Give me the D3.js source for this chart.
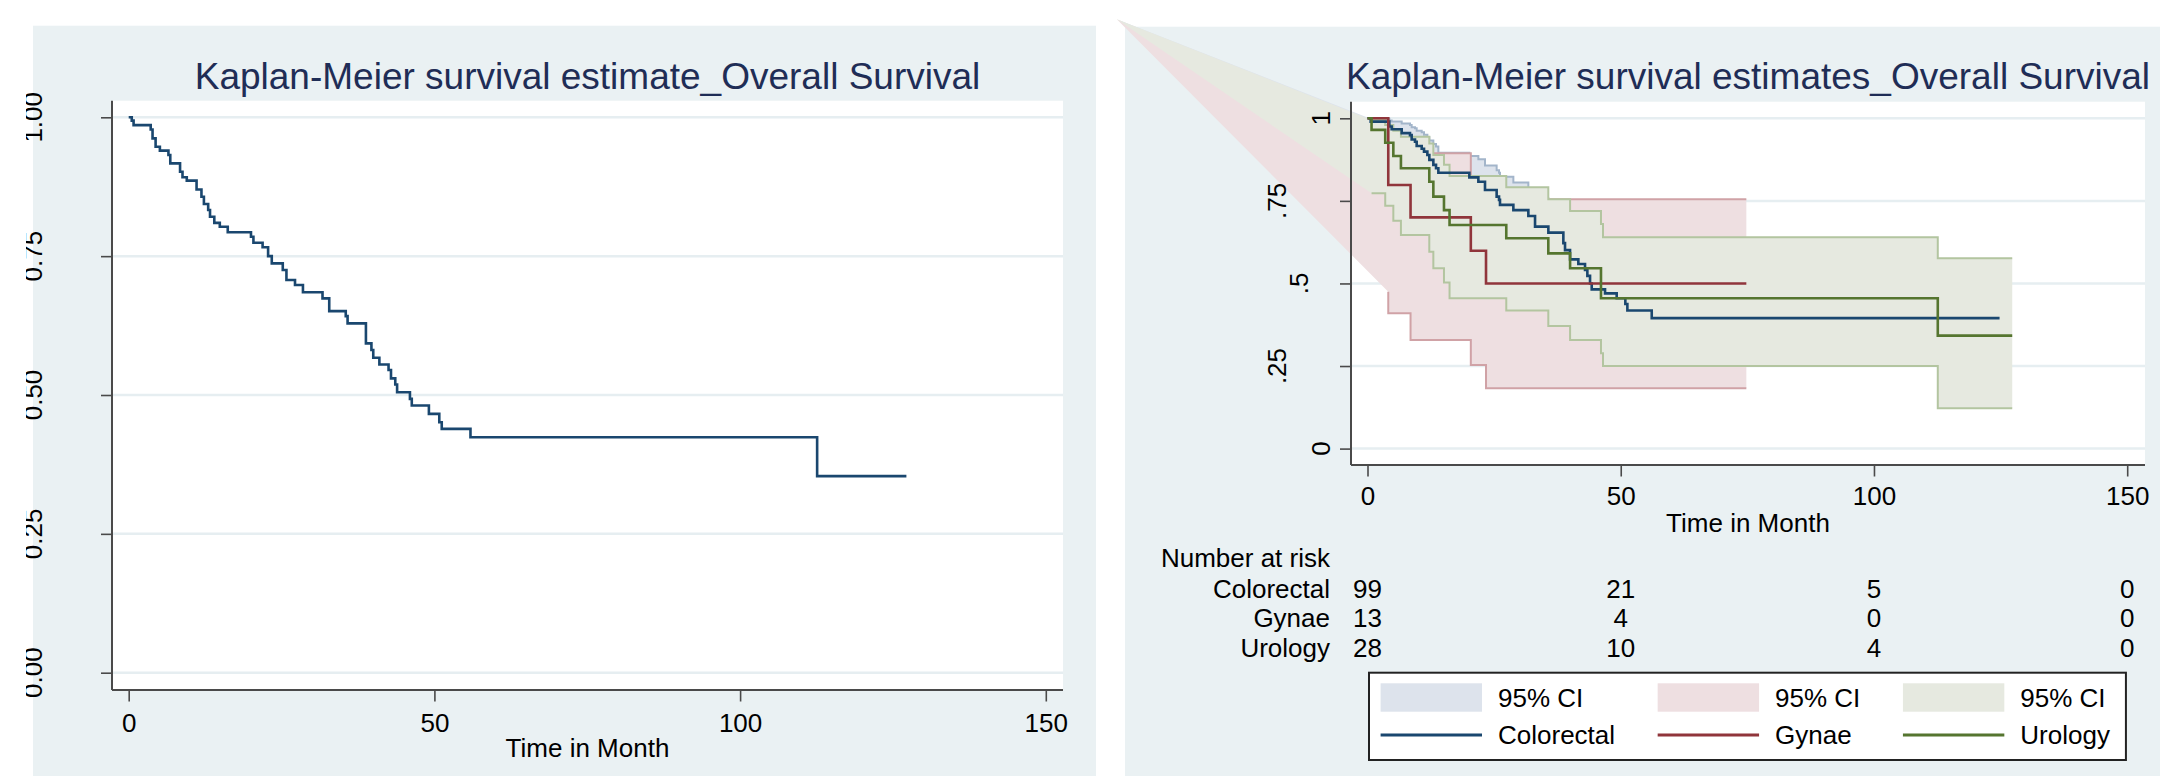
<!DOCTYPE html>
<html>
<head>
<meta charset="utf-8">
<script src="https://cdn.jsdelivr.net/npm/d3@7"></script>
<style>
  body { margin: 0; background: #fff; }
  svg { display: block; font-family: "Liberation Sans", Arial, sans-serif; }
</style>
</head>
<body>
<div id="chart"></div>
<script>
// ---------- data ----------
var timeTicks = [0, 50, 100, 150]
var survTicks = [0, 0.25, 0.5, 0.75, 1]
var leftSurvLabels = ["0.00", "0.25", "0.50", "0.75", "1.00"]
var rightSurvLabels = ["0", ".25", ".5", ".75", "1"]

// overall survival, [month, survival after the drop]
var overallKM = [[0,1],[0.5,0.994],[0.8,0.986],[3.6,0.978],[3.9,0.962],[4.4,0.947],[5.1,0.940],
  [6.5,0.932],[6.8,0.917],[8.4,0.902],[8.8,0.892],[9.5,0.886],[11.1,0.870],[11.9,0.857],
  [12.3,0.844],[13.0,0.833],[13.3,0.821],[14.0,0.810],[14.9,0.803],[16.2,0.793],[20.0,0.785],
  [20.4,0.774],[21.9,0.766],[22.8,0.750],[23.4,0.737],[25.2,0.725],[25.8,0.707],[27.2,0.698],
  [28.5,0.685],[31.7,0.674],[32.8,0.651],[35.5,0.642],[35.8,0.629],[38.8,0.593],[39.7,0.581],
  [40.0,0.567],[41.0,0.555],[42.5,0.545],[42.9,0.530],[43.6,0.519],[43.9,0.505],[46.0,0.493],
  [46.3,0.481],[49.1,0.466],[50.8,0.451],[51.2,0.439],[55.9,0.424],[112.6,0.354]]
var overallEnd = 127.2

var groups = ["Colorectal", "Gynae", "Urology"]

var colorectalKM = [[0,1],[0.63,0.990],[4.31,0.975],[4.77,0.967],[6.75,0.955],[8.39,0.949],
  [8.72,0.936],[9.38,0.929],[9.71,0.916],[10.7,0.908],[11.16,0.899],[11.82,0.889],[12.21,0.874],
  [13.0,0.859],[13.53,0.849],[13.99,0.835],[20.11,0.821],[21.89,0.808],[23.2,0.783],[25.5,0.763],
  [25.97,0.753],[26.16,0.738],[28.8,0.722],[31.76,0.704],[33.08,0.672],[35.71,0.654],[38.67,0.622],
  [39.0,0.601],[39.99,0.573],[41.63,0.559],[42.95,0.541],[43.41,0.523],[43.94,0.500],[44.27,0.482],
  [46.9,0.470],[49.2,0.455],[50.91,0.438],[51.31,0.418],[56.12,0.395]]
var colorectalUpper = [[0.63,0.999],[4.31,0.993],[4.77,0.990],[6.75,0.984],[8.39,0.980],[8.72,0.973],
  [9.38,0.970],[9.71,0.962],[10.7,0.958],[11.16,0.950],[11.82,0.943],[12.21,0.933],[13.0,0.922],
  [13.53,0.915],[13.99,0.896],[20.11,0.886],[21.89,0.876],[23.2,0.857],[25.5,0.843],[25.97,0.835],
  [26.16,0.823],[28.8,0.806],[31.76,0.785],[33.08,0.758],[35.71,0.742],[38.67,0.714],[39.0,0.696],
  [39.99,0.672],[41.63,0.659],[42.95,0.643],[43.41,0.627],[43.94,0.607],[44.27,0.591],[46.9,0.580],
  [49.2,0.566],[50.91,0.551],[51.31,0.533],[56.12,0.512]]
var colorectalLower = [[0.63,0.930],[4.31,0.920],[4.77,0.910],[6.75,0.895],[8.39,0.885],[8.72,0.870],
  [9.38,0.862],[9.71,0.848],[10.7,0.838],[11.16,0.826],[11.82,0.815],[12.21,0.798],[13.0,0.782],
  [13.53,0.770],[13.99,0.754],[20.11,0.738],[21.89,0.722],[23.2,0.694],[25.5,0.672],[25.97,0.661],
  [26.16,0.644],[28.8,0.626],[31.76,0.606],[33.08,0.571],[35.71,0.551],[38.67,0.517],[39.0,0.494],
  [39.99,0.464],[41.63,0.449],[42.95,0.430],[43.41,0.411],[43.94,0.386],[44.27,0.367],[46.9,0.354],
  [49.2,0.338],[50.91,0.320],[51.31,0.299],[56.12,0.275]]
var colorectalEnd = 124.8

var gynaeKM = [[0,1],[4.1,0.798],[8.5,0.700],[20.4,0.599],[23.4,0.500]]
var gynaeUpper = [[4.1,0.930],[8.5,0.894],[20.4,0.810],[23.4,0.755]]
var gynaeLower = [[4.1,0.475],[4.1,0.410],[8.5,0.329],[20.4,0.253],[23.4,0.183]]
var gynaeEnd = 74.8

var urologyKM = [[0,1],[0.8,0.965],[3.5,0.926],[5.1,0.886],[6.6,0.849],[12.2,0.808],[13.0,0.763],
  [15.1,0.722],[16.2,0.677],[27.4,0.637],[35.7,0.591],[40.0,0.546],[46.1,0.455],[112.6,0.342]]
var urologyUpper = [[0.8,0.995],[3.5,0.980],[5.1,0.962],[6.6,0.944],[12.2,0.924],[13.0,0.889],
  [15.1,0.859],[16.2,0.825],[27.4,0.791],[35.7,0.755],[40.0,0.719],[46.1,0.680],[46.5,0.640],[112.6,0.576]]
var urologyLower = [[0.8,0.773],[3.5,0.735],[5.1,0.690],[6.6,0.647],[12.2,0.596],[13.0,0.546],
  [15.1,0.503],[16.2,0.455],[27.4,0.418],[35.7,0.371],[40.0,0.329],[46.1,0.289],[46.5,0.250],[112.6,0.122]]
var urologyEnd = 127.3

// stray first vertex of the CI areas (months, survival), far outside the plot
var ciOrigin = [-49.5, 1.30]

var riskTimes = [0, 50, 100, 150]
var riskColorectal = [99, 21, 5, 0]
var riskGynae = [13, 4, 0, 0]
var riskUrology = [28, 10, 4, 0]

// ---------- drawing ----------
var W = 2160, H = 776
var bg = "#eaf1f3", grid = "#e6eef1", axisCol = "#4a4a4a", titleCol = "#1f2d56"
var navy = "#1a476f", maroon = "#90353b", forest = "#55752f"

var svg = d3.select("#chart").append("svg").attr("width", W).attr("height", H)
svg.append("defs").append("clipPath").attr("id", "leftcut")
  .append("rect").attr("x", 26).attr("y", 0).attr("width", 400).attr("height", H)

function stepVerts(steps, end) {
  var v = []
  steps.forEach(function(d, i) {
    if (i > 0) v.push([d[0], steps[i-1][1]])
    v.push(d)
  })
  v.push([end, steps[steps.length-1][1]])
  return v
}

function panel(o) {
  var g = svg.append("g")
  g.append("rect").attr("x", o.bg[0]).attr("y", o.bg[1])
    .attr("width", o.bg[2] - o.bg[0]).attr("height", o.bg[3] - o.bg[1]).attr("fill", bg)
  g.append("rect").attr("x", o.plot[0]).attr("y", o.plot[1])
    .attr("width", o.plot[2] - o.plot[0]).attr("height", o.plot[3] - o.plot[1]).attr("fill", "#fff")

  var x = d3.scaleLinear().domain([0, 150]).range(o.xRange)
  var y = d3.scaleLinear().domain([0, 1]).range(o.yRange)

  g.selectAll("line.grid").data(survTicks).enter().append("line")
    .attr("x1", o.plot[0]).attr("x2", o.plot[2])
    .attr("y1", function(d) { return y(d) }).attr("y2", function(d) { return y(d) })
    .attr("stroke", grid).attr("stroke-width", 2.5)

  // layer for the marks, below the axes
  var marks = g.append("g")

  // x axis
  var xa = g.append("g").attr("transform", "translate(0," + o.plot[3] + ")")
    .call(d3.axisBottom(x).tickValues(timeTicks).tickSize(11.5).tickPadding(o.xPad))
  xa.select(".domain").remove()
  xa.selectAll("line").attr("stroke", axisCol).attr("stroke-width", 1.6)
  xa.selectAll("text").attr("font-size", 26).attr("fill", "#000")
    .attr("font-family", "Liberation Sans, Arial, sans-serif")

  // y axis ticks
  var ya = g.append("g").attr("transform", "translate(" + o.plot[0] + ",0)")
    .call(d3.axisLeft(y).tickValues(survTicks).tickSize(11).tickFormat(""))
  ya.select(".domain").remove()
  ya.selectAll("line").attr("stroke", axisCol).attr("stroke-width", 1.6)

  g.append("line").attr("x1", o.plot[0]).attr("x2", o.plot[0])
    .attr("y1", o.plot[1]).attr("y2", o.plot[3]).attr("stroke", axisCol).attr("stroke-width", 2)
  g.append("line").attr("x1", o.plot[0]).attr("x2", o.plot[2])
    .attr("y1", o.plot[3]).attr("y2", o.plot[3]).attr("stroke", axisCol).attr("stroke-width", 2)

  // rotated y labels
  var lab = g.append("g")
  if (o.clip) lab.attr("clip-path", "url(#leftcut)")
  lab.selectAll("text").data(survTicks).enter().append("text")
    .attr("transform", function(d, i) {
      return "translate(" + o.yLabelX(o.yLabels[i]) + "," + y(d) + ") rotate(-90)"
    })
    .attr("text-anchor", "middle").attr("font-size", 26).attr("fill", "#000")
    .text(function(d, i) { return o.yLabels[i] })

  var cx = (o.plot[0] + o.plot[2]) / 2
  g.append("text").attr("x", cx).attr("y", o.titleY).attr("text-anchor", "middle")
    .attr("font-size", 37).attr("fill", titleCol).text(o.title)
  g.append("text").attr("x", cx).attr("y", o.xTitleY).attr("text-anchor", "middle")
    .attr("font-size", 26).attr("fill", "#000").text("Time in Month")

  return { g: g, marks: marks, x: x, y: y }
}

// ----- left panel -----
var L = panel({
  bg: [33, 25.7, 1096, H], plot: [112, 100.7, 1063, 690],
  xRange: [128.7, 1045.8], yRange: [672.7, 117.3], xPad: 12,
  yLabels: leftSurvLabels, yLabelX: function() { return 42 }, clip: true,
  title: "Kaplan-Meier survival estimate_Overall Survival", titleY: 89, xTitleY: 757
})
var lineL = d3.line().x(function(d) { return L.x(d[0]) }).y(function(d) { return L.y(d[1]) })
L.marks.append("path").attr("d", lineL(stepVerts(overallKM, overallEnd)))
  .attr("fill", "none").attr("stroke", navy).attr("stroke-width", 2.6)

// ----- right panel -----
var R = panel({
  bg: [1125, 26.7, W, H], plot: [1351, 101.7, 2145, 465],
  xRange: [1367.5, 2127.2], yRange: [448.6, 118.3], xPad: 10,
  yLabels: rightSurvLabels, yLabelX: function(s) { return 1330 - (s.length - 1) * 22 }, clip: false,
  title: "Kaplan-Meier survival estimates_Overall Survival", titleY: 89.3, xTitleY: 532
})
var lineR = d3.line().x(function(d) { return R.x(d[0]) }).y(function(d) { return R.y(d[1]) })

var bands = [
  { up: colorectalUpper, lo: colorectalLower, end: colorectalEnd, fill: "#dde3ec", edge: "#a3b5ca" },
  { up: gynaeUpper, lo: gynaeLower, end: gynaeEnd, fill: "#eedfe1", edge: "#d0a2a6" },
  { up: urologyUpper, lo: urologyLower, end: urologyEnd, fill: "#e6e9e0", edge: "#b3c5a0" }
]
bands.forEach(function(b) {
  var up = stepVerts(b.up, b.end), lo = stepVerts(b.lo, b.end)
  var poly = [ciOrigin].concat(up, lo.slice().reverse(), [ciOrigin])
  R.marks.append("path").attr("d", lineR(poly)).attr("fill", b.fill).attr("stroke", "none")
  R.marks.append("path").attr("d", lineR(up)).attr("fill", "none").attr("stroke", b.edge).attr("stroke-width", 2)
  R.marks.append("path").attr("d", lineR(lo)).attr("fill", "none").attr("stroke", b.edge).attr("stroke-width", 2)
})

var curves = [
  { km: colorectalKM, end: colorectalEnd, col: navy },
  { km: gynaeKM, end: gynaeEnd, col: maroon },
  { km: urologyKM, end: urologyEnd, col: forest }
]
curves.forEach(function(c) {
  R.marks.append("path").attr("d", lineR(stepVerts(c.km, c.end)))
    .attr("fill", "none").attr("stroke", c.col).attr("stroke-width", 2.6)
})

// number at risk
var risk = R.g.append("g").attr("font-size", 26).attr("fill", "#000")
risk.append("text").attr("x", 1330).attr("y", 567).attr("text-anchor", "end").text("Number at risk")
;[riskColorectal, riskGynae, riskUrology].forEach(function(row, i) {
  var yy = 597.5 + i * 29.8
  risk.append("text").attr("x", 1330).attr("y", yy).attr("text-anchor", "end").text(groups[i])
  risk.selectAll("text.n" + i).data(row).enter().append("text")
    .attr("x", function(d, j) { return R.x(riskTimes[j]) }).attr("y", yy)
    .attr("text-anchor", "middle").text(function(d) { return d })
})

// legend
var leg = R.g.append("g")
var box = leg.append("rect").attr("x", 1369).attr("y", 672.7).attr("height", 87.3)
  .attr("fill", "#fff").attr("stroke", "#222").attr("stroke-width", 2)
var colX = 1380.6
groups.forEach(function(name, i) {
  leg.append("rect").attr("x", colX).attr("y", 683.3).attr("width", 101.4).attr("height", 28.4)
    .attr("fill", bands[i].fill)
  leg.append("line").attr("x1", colX).attr("x2", colX + 101.4).attr("y1", 735).attr("y2", 735)
    .attr("stroke", curves[i].col).attr("stroke-width", 3)
  var t1 = leg.append("text").attr("x", colX + 117.4).attr("y", 697.5).attr("dy", "0.36em")
    .attr("font-size", 26).text("95% CI")
  var t2 = leg.append("text").attr("x", colX + 117.4).attr("y", 735).attr("dy", "0.36em")
    .attr("font-size", 26).text(name)
  var tw = Math.max(t1.node().getComputedTextLength(), t2.node().getComputedTextLength())
  var next = colX + 117.4 + tw
  if (i < groups.length - 1) colX = next + 42.6
  else box.attr("width", next + 16 - 1369)
})
</script>
</body>
</html>
